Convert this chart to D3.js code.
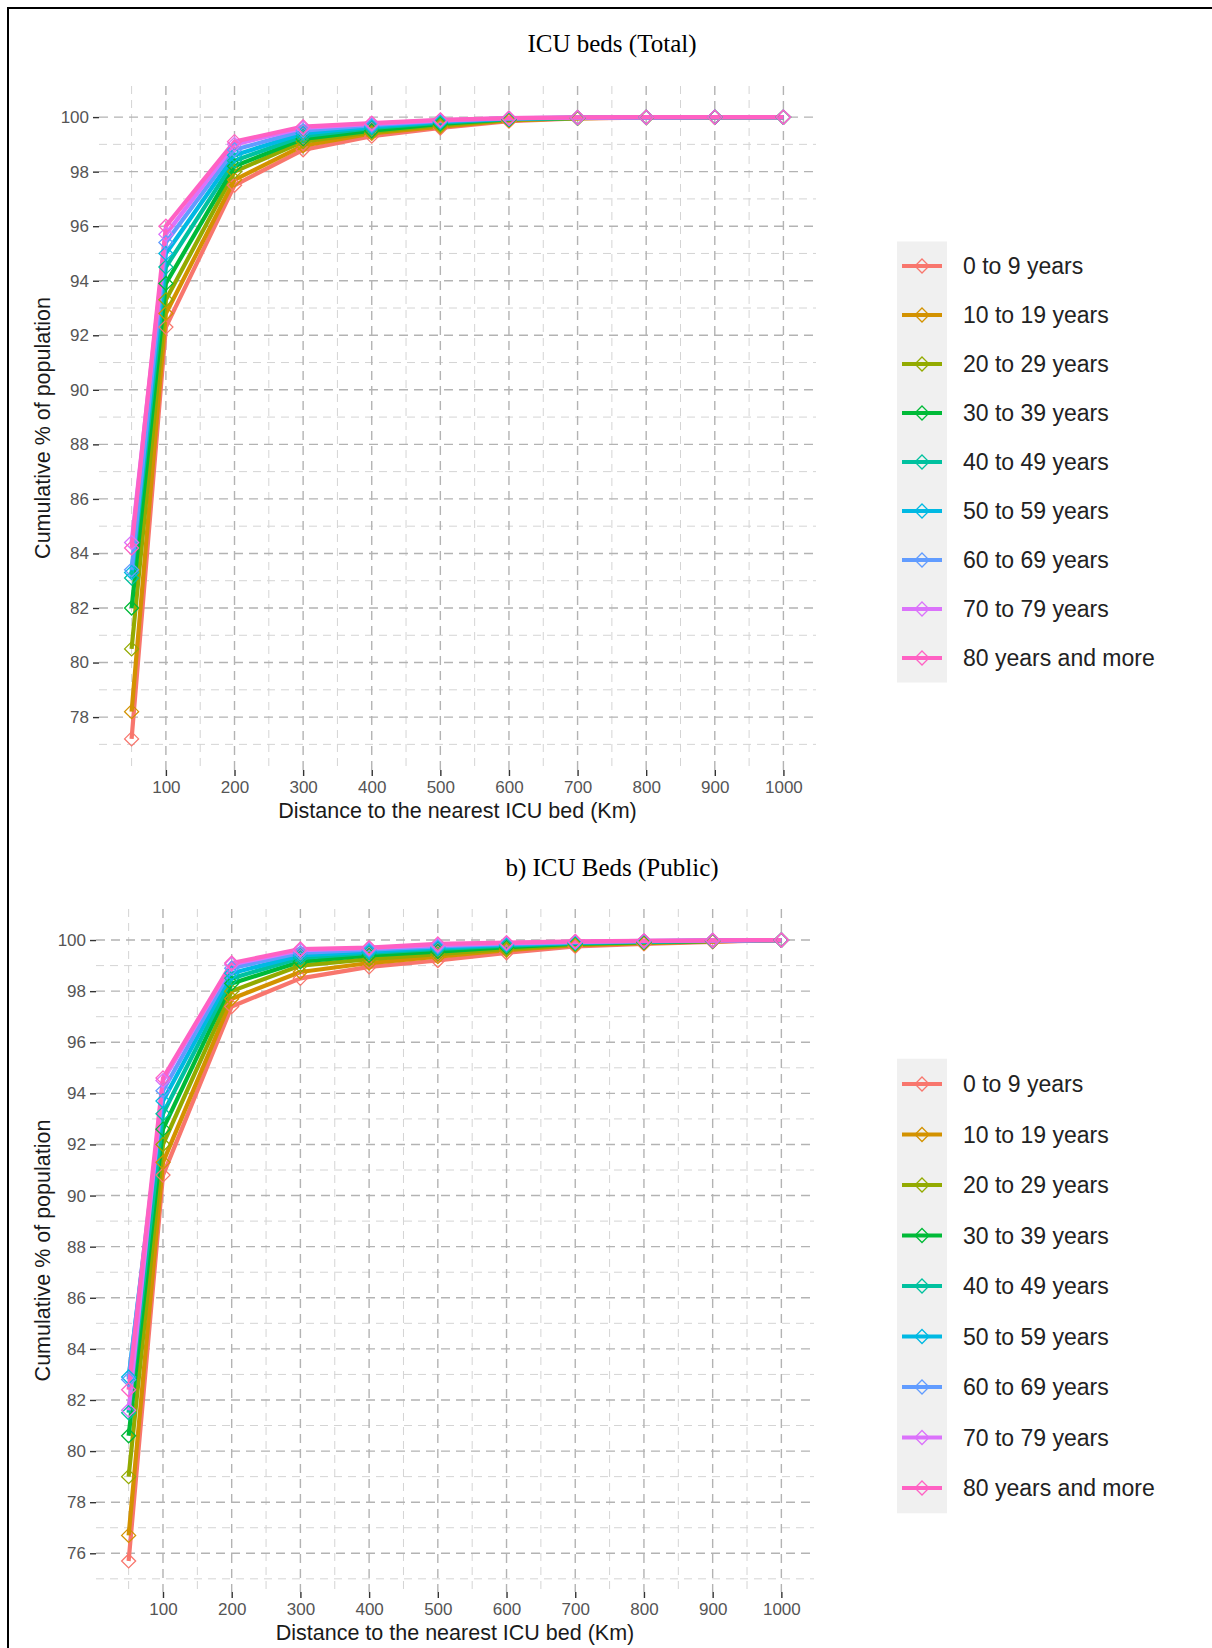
<!DOCTYPE html>
<html>
<head>
<meta charset="utf-8">
<script src="https://cdn.jsdelivr.net/npm/d3@7"></script>
<style>
  body { margin: 0; background: #fff; }
  svg { display: block; }
</style>
</head>
<body>
<div id="container"></div>
<script>
// distance steps (km) on x
const distances = [50, 100, 200, 300, 400, 500, 600, 700, 800, 900, 1000]
const ageGroups = [
    "0 to 9 years", "10 to 19 years", "20 to 29 years", "30 to 39 years",
    "40 to 49 years", "50 to 59 years", "60 to 69 years", "70 to 79 years",
    "80 years and more"
]
const groupColors = ["#F8766D", "#D39200", "#93AA00", "#00BA38", "#00C19F", "#00B9E3", "#619CFF", "#DB72FB", "#FF61C3"]

const xTicks = [100, 200, 300, 400, 500, 600, 700, 800, 900, 1000]
const yTicksTotal = [78, 80, 82, 84, 86, 88, 90, 92, 94, 96, 98, 100]
const yTicksPublic = [76, 78, 80, 82, 84, 86, 88, 90, 92, 94, 96, 98, 100]

// cumulative % of population, one row per age group (panel: total ICU beds)
const totalPct = [
    [77.2, 92.3, 97.5, 98.8, 99.3, 99.6, 99.85, 99.95, 99.98, 99.99, 100],
    [78.2, 92.8, 97.7, 98.95, 99.4, 99.65, 99.88, 99.96, 99.98, 99.99, 100],
    [80.5, 93.3, 98.0, 99.1, 99.45, 99.7, 99.9, 99.96, 99.99, 100, 100],
    [82.0, 93.9, 98.2, 99.2, 99.5, 99.75, 99.92, 99.97, 99.99, 100, 100],
    [83.1, 94.5, 98.4, 99.3, 99.6, 99.8, 99.93, 99.97, 99.99, 100, 100],
    [83.3, 95.0, 98.6, 99.4, 99.65, 99.83, 99.94, 99.98, 99.99, 100, 100],
    [83.4, 95.4, 98.8, 99.5, 99.7, 99.86, 99.95, 99.98, 99.99, 100, 100],
    [84.4, 95.7, 99.0, 99.6, 99.75, 99.88, 99.96, 99.98, 99.99, 100, 100],
    [84.2, 96.0, 99.1, 99.65, 99.78, 99.9, 99.96, 99.99, 100, 100, 100]
]
// cumulative % of population (panel: public ICU beds)
const publicPct = [
    [75.7, 90.8, 97.4, 98.5, 98.95, 99.2, 99.5, 99.75, 99.85, 99.93, 100],
    [76.7, 91.3, 97.7, 98.75, 99.1, 99.35, 99.6, 99.8, 99.88, 99.95, 100],
    [79.0, 92.0, 98.0, 99.0, 99.25, 99.45, 99.65, 99.83, 99.9, 99.96, 100],
    [80.6, 92.6, 98.3, 99.15, 99.4, 99.55, 99.72, 99.86, 99.92, 99.97, 100],
    [81.5, 93.2, 98.5, 99.3, 99.5, 99.65, 99.78, 99.88, 99.94, 99.97, 100],
    [82.9, 93.7, 98.7, 99.4, 99.55, 99.7, 99.82, 99.9, 99.95, 99.98, 100],
    [82.8, 94.1, 98.9, 99.5, 99.62, 99.75, 99.85, 99.92, 99.96, 99.98, 100],
    [81.6, 94.5, 99.05, 99.6, 99.68, 99.8, 99.88, 99.93, 99.97, 99.99, 100],
    [82.4, 94.6, 99.1, 99.65, 99.7, 99.85, 99.9, 99.95, 99.97, 99.99, 100]
]

const W = 1212, H = 1648
const svg = d3.select("#container")
    .append("svg")
    .attr("width", W)
    .attr("height", H)

/* FRAME */
svg.append("rect")
    .attr("x", 8).attr("y", 8)
    .attr("width", W).attr("height", H)
    .attr("fill", "none")
    .attr("stroke", "#000")
    .attr("stroke-width", 2)

function diamond(r) { return `M0,${-r}L${r},0L0,${r}L${-r},0Z` }

// expand a domain by 5% like ggplot does
function expand(ext) {
    const pad = (ext[1] - ext[0]) * 0.05
    return [ext[0] - pad, ext[1] + pad]
}

function Panel(config) {
    const values = config.values
    const x = d3.scaleLinear()
        .domain(expand(d3.extent(distances)))
        .range([config.left, config.right])
    const y = d3.scaleLinear()
        .domain(expand(d3.extent(values.flat())))
        .range([config.bottom, config.top])

    const g = svg.append("g")

    /* TITLE */
    g.append("text")
        .attr("x", 612)
        .attr("y", config.titleY)
        .attr("text-anchor", "middle")
        .style("font-family", "'Liberation Serif', 'Times New Roman', serif")
        .style("font-size", "25px")
        .attr("fill", "#000")
        .text(config.title)

    /* GRID LINES */
    const xMinor = xTicks.map(d => d - 50)
    const yMinor = config.yTicks.map(d => d - 1).filter(d => d > y.domain()[0])

    g.selectAll(".x-minor")
        .data(xMinor)
        .join("line")
        .attr("x1", d => x(d)).attr("x2", d => x(d))
        .attr("y1", config.top).attr("y2", config.bottom)
        .attr("stroke", "#d4d4d4")
        .attr("stroke-width", 1)
        .attr("stroke-dasharray", "8,6")

    g.selectAll(".y-minor")
        .data(yMinor)
        .join("line")
        .attr("x1", config.left).attr("x2", config.right)
        .attr("y1", d => y(d)).attr("y2", d => y(d))
        .attr("stroke", "#d4d4d4")
        .attr("stroke-width", 1)
        .attr("stroke-dasharray", "8,6")

    g.selectAll(".x-major")
        .data(xTicks)
        .join("line")
        .attr("x1", d => x(d)).attr("x2", d => x(d))
        .attr("y1", config.top).attr("y2", config.bottom)
        .attr("stroke", "#b3b3b3")
        .attr("stroke-width", 1.4)
        .attr("stroke-dasharray", "9,6")

    g.selectAll(".y-major")
        .data(config.yTicks)
        .join("line")
        .attr("x1", config.left).attr("x2", config.right)
        .attr("y1", d => y(d)).attr("y2", d => y(d))
        .attr("stroke", "#b3b3b3")
        .attr("stroke-width", 1.4)
        .attr("stroke-dasharray", "9,6")

    /* AXES */
    const xAxis = g.append("g")
        .attr("transform", `translate(0, ${config.bottom})`)
        .call(d3.axisBottom(x).tickValues(xTicks).tickFormat(d3.format("d")).tickSize(6).tickPadding(5))
    const yAxis = g.append("g")
        .attr("transform", `translate(${config.left}, 0)`)
        .call(d3.axisLeft(y).tickValues(config.yTicks).tickSize(6).tickPadding(4))
    ;[xAxis, yAxis].forEach(a => {
        a.select(".domain").remove()
        a.selectAll(".tick line").attr("stroke", "#333").attr("stroke-width", 1.4)
        a.selectAll(".tick text")
            .attr("fill", "#555")
            .style("font-family", "'Liberation Sans', Arial, sans-serif")
            .style("font-size", "17px")
    })

    g.append("text")
        .attr("x", (config.left + config.right) / 2)
        .attr("y", config.bottom + 48)
        .attr("text-anchor", "middle")
        .style("font-family", "'Liberation Sans', Arial, sans-serif")
        .style("font-size", "21.5px")
        .attr("fill", "#1a1a1a")
        .text("Distance to the nearest ICU bed (Km)")

    g.append("text")
        .attr("transform", `translate(50, ${(config.top + config.bottom) / 2}) rotate(-90)`)
        .attr("text-anchor", "middle")
        .style("font-family", "'Liberation Sans', Arial, sans-serif")
        .style("font-size", "21.5px")
        .attr("fill", "#1a1a1a")
        .text("Cumulative % of population")

    /* LINES */
    const line = d3.line()
        .x((d, i) => x(distances[i]))
        .y(d => y(d))

    g.selectAll(".series")
        .data(values)
        .join("path")
        .attr("fill", "none")
        .attr("stroke", (d, i) => groupColors[i])
        .attr("stroke-width", 4.2)
        .attr("stroke-linejoin", "round")
        .attr("d", line)

    /* POINTS */
    values.forEach((row, k) => {
        g.selectAll(null)
            .data(row)
            .join("path")
            .attr("transform", (d, i) => `translate(${x(distances[i])}, ${y(d)})`)
            .attr("d", diamond(7))
            .attr("fill", "none")
            .attr("stroke", groupColors[k])
            .attr("stroke-width", 1.3)
    })

    /* LEGEND */
    const leg = g.append("g")
    const step = config.legendStep
    leg.append("rect")
        .attr("x", 897)
        .attr("y", config.legendY - step / 2)
        .attr("width", 50)
        .attr("height", step * ageGroups.length)
        .attr("fill", "#f0f0f0")
    const item = leg.selectAll(".item")
        .data(ageGroups)
        .join("g")
        .attr("transform", (d, i) => `translate(922, ${config.legendY + i * step})`)
    item.append("line")
        .attr("x1", -20).attr("x2", 20)
        .attr("stroke", (d, i) => groupColors[i])
        .attr("stroke-width", 4.2)
    item.append("path")
        .attr("d", diamond(7))
        .attr("fill", "none")
        .attr("stroke", (d, i) => groupColors[i])
        .attr("stroke-width", 1.3)
    item.append("text")
        .attr("x", 41)
        .attr("dy", "0.35em")
        .style("font-family", "'Liberation Sans', Arial, sans-serif")
        .style("font-size", "23px")
        .attr("fill", "#222")
        .text(d => d)
}

Panel({
    title: "ICU beds (Total)",
    titleY: 52,
    values: totalPct,
    yTicks: yTicksTotal,
    left: 99, right: 816, top: 86, bottom: 770,
    legendY: 266, legendStep: 49
})

Panel({
    title: "b) ICU Beds (Public)",
    titleY: 876,
    values: publicPct,
    yTicks: yTicksPublic,
    left: 96, right: 814, top: 909, bottom: 1592,
    legendY: 1084, legendStep: 50.5
})
</script>
</body>
</html>
